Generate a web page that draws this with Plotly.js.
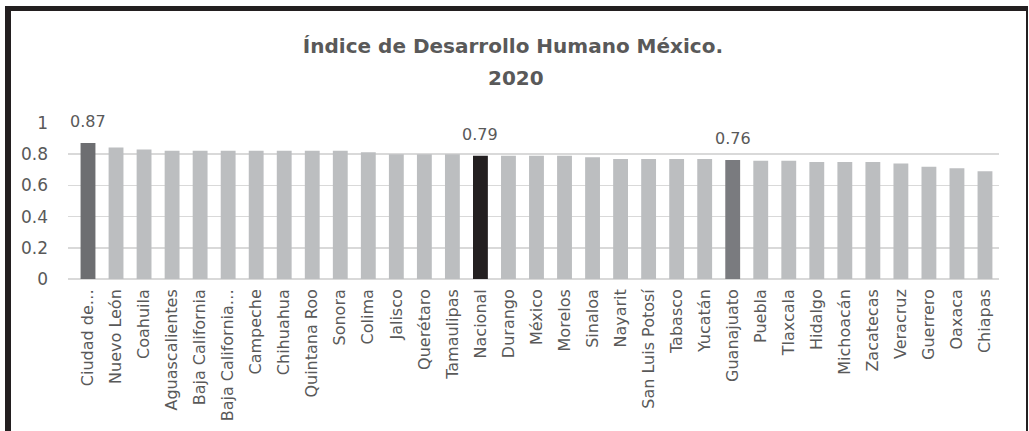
<!DOCTYPE html>
<html><head><meta charset="utf-8">
<script src="https://cdn.plot.ly/plotly-3.0.1.min.js"></script>
<style>
html,body{margin:0;padding:0;width:1029px;height:431px;overflow:hidden;background:#fff;}
#frame{position:absolute;left:5px;top:6px;width:1015px;height:520px;border-left:6px solid #231f20;border-top:5px solid #231f20;border-right:2px solid #231f20;}
#chart{position:absolute;left:0;top:0;width:1029px;height:431px;}
</style></head>
<body>
<div id="frame"></div>
<div id="chart"></div>
<script>
const categories = ["Ciudad de México","Nuevo León","Coahuila","Aguascalientes","Baja California","Baja California Sur","Campeche","Chihuahua","Quintana Roo","Sonora","Colima","Jalisco","Querétaro","Tamaulipas","Nacional","Durango","México","Morelos","Sinaloa","Nayarit","San Luis Potosí","Tabasco","Yucatán","Guanajuato","Puebla","Tlaxcala","Hidalgo","Michoacán","Zacatecas","Veracruz","Guerrero","Oaxaca","Chiapas"];
const tickLabels = ["Ciudad de…","Nuevo León","Coahuila","Aguascalientes","Baja California","Baja California…","Campeche","Chihuahua","Quintana Roo","Sonora","Colima","Jalisco","Querétaro","Tamaulipas","Nacional","Durango","México","Morelos","Sinaloa","Nayarit","San Luis Potosí","Tabasco","Yucatán","Guanajuato","Puebla","Tlaxcala","Hidalgo","Michoacán","Zacatecas","Veracruz","Guerrero","Oaxaca","Chiapas"];
const idh = [0.872,0.843,0.830,0.822,0.822,0.822,0.822,0.822,0.822,0.822,0.812,0.800,0.800,0.800,0.790,0.790,0.790,0.790,0.780,0.770,0.770,0.770,0.770,0.763,0.758,0.758,0.750,0.750,0.750,0.740,0.720,0.710,0.690];
const highlighted = {"Ciudad de México":"#6d6e71","Nacional":"#231f20","Guanajuato":"#7a7b7f"};
const baseColor = "#bcbec0";

const FONT = 'DejaVu Sans';
const colors = categories.map(c => highlighted[c] || baseColor);
const annotations = categories.filter(c => highlighted[c]).map(c => {
  const v = idh[categories.indexOf(c)];
  return {x:c, y:v, xref:'x', yref:'y', text:v.toFixed(2), showarrow:false,
    yanchor:'middle', yshift:21, font:{family:FONT, size:16, color:'#595959'}};
});
annotations.push({text:'2020', xref:'paper', yref:'paper', x:0.4815, y:1.29, showarrow:false,
  xanchor:'center', yanchor:'middle', font:{family:FONT, size:20, color:'#595959', weight:'bold'}});

const trace = {type:'bar', x:categories, y:idh, marker:{color:colors}, hoverinfo:'x+y'};
const layout = {
  width:1029, height:431,
  paper_bgcolor:'rgba(0,0,0,0)', plot_bgcolor:'rgba(0,0,0,0)',
  margin:{l:68, r:30, t:123, b:152, pad:0},
  bargap:0.47,
  showlegend:false,
  title:{text:'Índice de Desarrollo Humano México.', x:0.4985, xanchor:'center', xref:'container',
    y:1-46/431, yanchor:'middle', yref:'container',
    font:{family:FONT, size:20, color:'#595959', weight:'bold'}},
  xaxis:{type:'category', tickmode:'array', tickvals:categories, ticktext:tickLabels,
    tickangle:-90, tickfont:{family:FONT, size:16, color:'#595959'},
    showgrid:false, showline:false, ticks:'', ticklabelstandoff:6, automargin:false},
  yaxis:{range:[0,1], dtick:0.2, showgrid:true, gridcolor:'#d9d9d9', gridwidth:1.5,
    zeroline:true, zerolinecolor:'#d9d9d9', zerolinewidth:1.5,
    tickfont:{family:FONT, size:17, color:'#595959'}, ticklabelstandoff:19, automargin:false},
  annotations:annotations
};
Plotly.newPlot('chart', [trace], layout, {displayModeBar:false, staticPlot:true});
</script>
</body></html>
